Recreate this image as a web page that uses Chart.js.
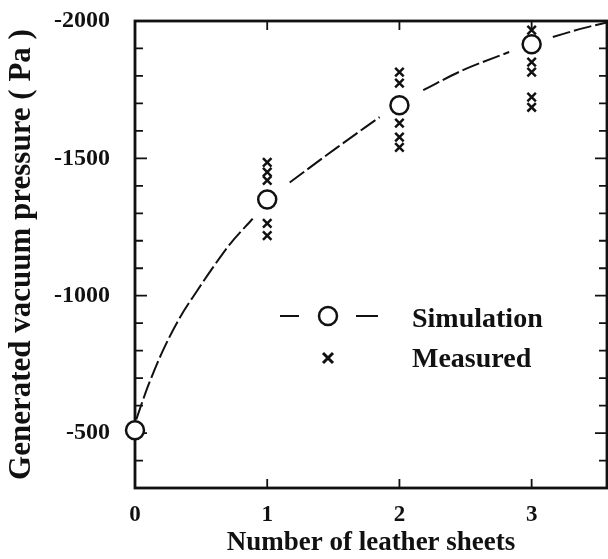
<!DOCTYPE html>
<html lang="en">
<head>
<meta charset="UTF-8"/>
<title>Generated vacuum pressure vs number of leather sheets</title>
<script src="https://cdn.jsdelivr.net/npm/chart.js"></script>
<style>
  html, body { margin: 0; padding: 0; background: #fff; }
  #wrap { width: 608px; height: 559px; position: relative; }
</style>
</head>
<body>
<div id="wrap"><canvas id="chart"></canvas></div>
<script>
// values (Pa, negative = vacuum)
const sheets = [0, 1, 2, 3];
const simPressure = [-510, -1350, -1693, -1915];

const measuredSheets   = [1, 1, 1, 1, 1, 2, 2, 2, 2, 2, 3, 3, 3, 3, 3];
const measuredPressure = [-1485, -1450, -1420, -1263, -1219,
                          -1814, -1774, -1628, -1577, -1540,
                          -1967, -1850, -1814, -1723, -1686];

// fitted curve, broken where it passes the marker clusters (null = gap)
const curveX = [0.01, 0.06, 0.11, 0.21, 0.34, 0.47, 0.59, 0.72, 0.89, 1.0, 1.17, 1.53, 1.85, 2.0, 2.18, 2.48, 2.83, 3.0, 3.16, 3.40, 3.57];
const curveY = [-550, -620, -685, -799, -921, -1018, -1103, -1189, -1280, null, -1412, -1540, -1650, null, -1748, -1821, -1887, null, -1942, -1975, -1995];

const xTickValues = [0, 1, 2, 3];
const yTickValues = [-2000, -1500, -1000, -500];
const xRange = [0, 3.57];
const yRange = [-2000, -300];

const labels = { sim: 'Simulation', meas: 'Measured' };

const INK = '#111';
const SERIF = '"Liberation Serif", "DejaVu Serif", serif';

const frame = {
  id: 'frame',
  beforeDatasetsDraw(chart) {
    const { ctx, chartArea: a, scales: { x, y } } = chart;
    ctx.save();
    ctx.strokeStyle = INK;
    ctx.lineWidth = 1.8;
    ctx.beginPath();
    // inward ticks every 100 Pa, left and right
    for (let v = yRange[0]; v <= yRange[1]; v += 100) {
      const py = y.getPixelForValue(v);
      const len = v % 500 === 0 ? 12 : 8;
      ctx.moveTo(a.left, py); ctx.lineTo(a.left + len, py);
      ctx.moveTo(a.right, py); ctx.lineTo(a.right - len, py);
    }
    xTickValues.forEach(v => {
      if (v === 0) return;
      const px = x.getPixelForValue(v);
      ctx.moveTo(px, a.bottom); ctx.lineTo(px, a.bottom - 9);
      ctx.moveTo(px, a.top); ctx.lineTo(px, a.top + 9);
    });
    ctx.stroke();
    ctx.lineWidth = 2.8;
    ctx.strokeRect(a.left, a.top, a.right - a.left, a.bottom - a.top);
    ctx.restore();
  },
  afterDraw(chart) {
    const { ctx } = chart;
    ctx.save();
    ctx.strokeStyle = INK;
    // Simulation: dash - circle - dash
    ctx.lineWidth = 2.2;
    ctx.beginPath();
    ctx.moveTo(280, 316); ctx.lineTo(299, 316);
    ctx.moveTo(356, 316); ctx.lineTo(378, 316);
    ctx.stroke();
    ctx.lineWidth = 2.5;
    ctx.fillStyle = '#fff';
    ctx.beginPath();
    ctx.arc(328, 316, 9, 0, Math.PI * 2);
    ctx.fill(); ctx.stroke();
    // Measured: small x
    ctx.lineWidth = 3;
    ctx.beginPath();
    ctx.moveTo(323, 353); ctx.lineTo(333, 363);
    ctx.moveTo(333, 353); ctx.lineTo(323, 363);
    ctx.stroke();
    ctx.fillStyle = INK;
    ctx.font = 'bold 28px ' + SERIF;
    ctx.textBaseline = 'alphabetic';
    ctx.textAlign = 'left';
    ctx.fillText(labels.sim, 412, 327);
    ctx.fillText(labels.meas, 412, 367);
    ctx.restore();
  }
};

new Chart(document.getElementById('chart'), {
  type: 'scatter',
  data: {
    datasets: [
      {
        label: labels.sim,
        data: sheets.map((s, i) => ({ x: s, y: simPressure[i] })),
        pointStyle: 'circle',
        pointRadius: 9,
        borderWidth: 2.5,
        borderColor: INK,
        backgroundColor: '#fff',
        clip: false,
        order: 0
      },
      {
        label: labels.meas,
        data: measuredSheets.map((s, i) => ({ x: s, y: measuredPressure[i] })),
        pointStyle: 'crossRot',
        pointRadius: 6,
        borderWidth: 2.5,
        borderColor: INK,
        backgroundColor: INK,
        clip: false,
        order: 1
      },
      {
        label: 'fit',
        data: curveX.map((cx, i) => ({ x: cx, y: curveY[i] })),
        showLine: true,
        spanGaps: false,
        cubicInterpolationMode: 'monotone',
        pointRadius: 0,
        borderColor: INK,
        borderWidth: 2,
        borderDash: [18, 4],
        order: 2
      }
    ]
  },
  options: {
    responsive: true,
    maintainAspectRatio: false,
    animation: false,
    layout: { autoPadding: false, padding: { top: 21, right: 1, left: 0, bottom: 0 } },
    plugins: { legend: { display: false }, tooltip: { enabled: false } },
    scales: {
      x: {
        type: 'linear',
        min: xRange[0],
        max: xRange[1],
        border: { display: false },
        grid: { display: false, drawTicks: false },
        afterBuildTicks: s => { s.ticks = xTickValues.map(v => ({ value: v })); },
        afterFit: s => { s.height = 71; s.paddingLeft = 0; s.paddingRight = 0; },
        ticks: {
          padding: 13,
          color: INK,
          font: { family: SERIF, size: 23, weight: 'bold' },
          callback: v => String(v)
        },
        title: {
          display: true,
          text: 'Number of leather sheets',
          color: INK,
          padding: { top: 0, bottom: 0 },
          font: { family: SERIF, size: 27, weight: 'bold' }
        }
      },
      y: {
        type: 'linear',
        reverse: true,
        min: yRange[0],
        max: yRange[1],
        border: { display: false },
        grid: { display: false, drawTicks: false },
        afterBuildTicks: s => { s.ticks = yTickValues.map(v => ({ value: v })); },
        afterFit: s => { s.width = 135; s.paddingTop = 0; s.paddingBottom = 0; },
        ticks: {
          padding: 25,
          color: INK,
          font: { family: SERIF, size: 24, weight: 'bold' },
          callback: v => String(v)
        },
        title: {
          display: true,
          text: 'Generated vacuum pressure ( Pa )',
          color: INK,
          padding: { top: 3, bottom: 0 },
          font: { family: SERIF, size: 31, weight: 'bold' }
        }
      }
    }
  },
  plugins: [frame]
});
</script>
</body>
</html>
